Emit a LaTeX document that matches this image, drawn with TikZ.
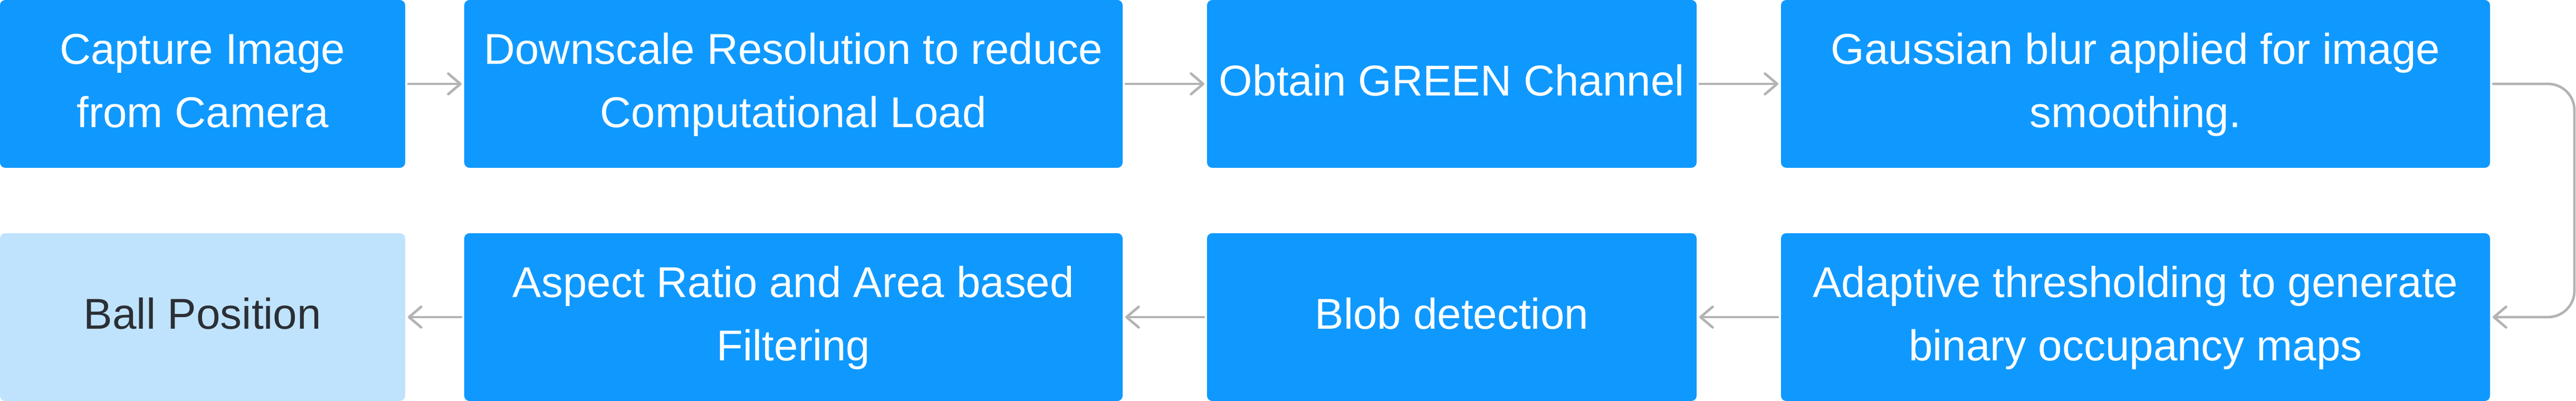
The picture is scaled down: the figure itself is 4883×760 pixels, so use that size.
\documentclass[tikz,border=0pt]{standalone}
\usepackage{fontspec}
\setmainfont{Liberation Sans}
\usetikzlibrary{arrows.meta}
\definecolor{boxblue}{HTML}{0F99FF}
\definecolor{boxlight}{HTML}{BFE3FD}
\definecolor{txtdark}{HTML}{2B2F35}
\definecolor{arrgray}{HTML}{B3B3B3}
\newcommand\lnst{\rule[-3.6pt]{0pt}{16pt}}
\begin{document}
\begin{tikzpicture}[x=0.2pt,y=-0.2pt,
  stepbox/.style={rounded corners=2pt, fill=boxblue, text=white, inner sep=0pt, outer sep=0pt,
    minimum height=63.6pt, align=center, font=\fontsize{16.36}{24}\selectfont},
  endbox/.style={stepbox, fill=boxlight, text=txtdark},
  flow/.style={draw=arrgray, line width=0.95pt, line cap=round,
    -{Straight Barb[length=4.6pt,width=7.8pt,round]}, shorten <=1.2pt, shorten >=1pt}]
\useasboundingbox (0,0) rectangle (4883,760);
% top row
\node[stepbox, minimum width=153.6pt] (b1) at (384,159) {\lnst Capture Image\\\lnst from Camera};
\node[stepbox, minimum width=249.6pt] (b2) at (1504,159) {\lnst Downscale Resolution to reduce\\\lnst Computational Load};
\node[stepbox, minimum width=185.6pt] (b3) at (2752,159) {\lnst Obtain GREEN Channel};
\node[stepbox, minimum width=268.8pt] (b4) at (4048,159) {\lnst Gaussian blur applied for image\\\lnst smoothing.};
% bottom row
\node[endbox, minimum width=153.6pt] (b5) at (384,601) {\lnst Ball Position};
\node[stepbox, minimum width=249.6pt] (b6) at (1504,601) {\lnst Aspect Ratio and Area based\\\lnst Filtering};
\node[stepbox, minimum width=185.6pt] (b7) at (2752,601) {\lnst Blob detection};
\node[stepbox, minimum width=268.8pt] (b8) at (4048,601) {\lnst Adaptive thresholding to generate\\\lnst binary occupancy maps};
% connectors
\draw[flow] (b1) -- (b2);
\draw[flow] (b2) -- (b3);
\draw[flow] (b3) -- (b4);
\coordinate (loopr) at (4880,380);
\draw[flow, rounded corners=10pt] (b4.east) -| (loopr) |- (b8.east);
\draw[flow] (b8) -- (b7);
\draw[flow] (b7) -- (b6);
\draw[flow] (b6) -- (b5);
\end{tikzpicture}
\end{document}
